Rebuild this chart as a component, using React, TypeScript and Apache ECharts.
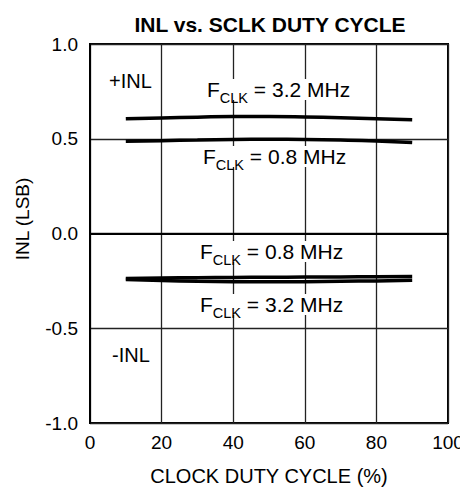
import React, { useEffect, useRef } from "react";
import * as echarts from "echarts";

const dutyCycle = [10, 20, 30, 40, 50, 60, 70, 80, 90];
const posInl32 = [0.605, 0.61, 0.614, 0.617, 0.617, 0.615, 0.611, 0.606, 0.6];
const posInl08 = [0.487, 0.49, 0.493, 0.496, 0.497, 0.496, 0.493, 0.488, 0.48];
const negInl08 = [-0.238, -0.235, -0.233, -0.232, -0.231, -0.23, -0.229, -0.228, -0.227];
const negInl32 = [-0.243, -0.248, -0.252, -0.254, -0.255, -0.254, -0.252, -0.25, -0.247];

const xTicks = { min: 0, max: 100, interval: 20 };
const yTicks = { min: -1, max: 1, interval: 0.5 };

const FONT = "'Liberation Sans', Arial, Helvetica, sans-serif";

function fclk(freq: string) {
  return `{m|F}{s|CLK}{m| = ${freq} MHz}`;
}

const richStyle = {
  m: { fontSize: 21, lineHeight: 21, verticalAlign: "top", fontFamily: FONT, fill: "#000", color: "#000" },
  s: { fontSize: 14.5, lineHeight: 14.5, verticalAlign: "top", padding: [11, 0, 0, 0], fontFamily: FONT, fill: "#000", color: "#000" },
};

function fclkLabel(freq: string, x: number, y: number) {
  return {
    type: "text",
    x,
    y,
    z: 10,
    style: {
      text: fclk(freq),
      rich: richStyle,
      fill: "#000",
      backgroundColor: "#fff",
      font: `21px ${FONT}`,
      verticalAlign: "top",
      align: "left",
    },
  };
}

function plainLabel(text: string, x: number, y: number, size: number) {
  return {
    type: "text",
    x,
    y,
    z: 10,
    style: {
      text,
      fill: "#000",
      font: `${size}px ${FONT}`,
      align: "left",
      verticalAlign: "middle",
    },
  };
}

export default function App() {
  const ref = useRef<HTMLDivElement>(null);
  useEffect(() => {
    if (!ref.current) return;
    const chart = echarts.init(ref.current, undefined, { renderer: "svg" });
    const mk = (data: number[]) => ({
      type: "line",
      data: dutyCycle.map((x, i) => [x, data[i]]),
      smooth: true,
      showSymbol: false,
      lineStyle: { color: "#000", width: 3.5 },
      z: 3,
    });
    chart.setOption({
      animation: false,
      backgroundColor: "#fff",
      textStyle: { fontFamily: FONT, color: "#000" },
      title: {
        text: "INL vs. SCLK DUTY CYCLE",
        left: 265,
        top: 9,
        textAlign: "center",
        textStyle: { fontSize: 21, fontWeight: "bold", fontFamily: FONT, color: "#000" },
      },
      grid: {
        left: 90,
        right: 12,
        top: 44,
        bottom: 64,
        outerBoundsMode: "none",
        containLabel: false,
        show: true,
        borderColor: "#000",
        borderWidth: 2,
        backgroundColor: "transparent",
      },
      xAxis: {
        type: "value",
        min: xTicks.min,
        max: xTicks.max,
        interval: xTicks.interval,
        name: "CLOCK DUTY CYCLE (%)",
        nameLocation: "middle",
        nameGap: 43,
        nameTextStyle: { fontSize: 20, fontFamily: FONT, color: "#000" },
        axisLine: { show: true, lineStyle: { color: "#000", width: 2 } },
        axisTick: { show: false },
        axisLabel: { fontSize: 19, fontFamily: FONT, color: "#000", margin: 10, showMaxLabel: true },
        splitLine: { show: true, lineStyle: { color: "#222", width: 1.3 } },
      },
      yAxis: {
        type: "value",
        min: yTicks.min,
        max: yTicks.max,
        interval: yTicks.interval,
        axisLine: { show: true, lineStyle: { color: "#000", width: 2 } },
        axisTick: { show: false },
        axisLabel: {
          fontSize: 19,
          fontFamily: FONT,
          color: "#000",
          margin: 12,
          formatter: (v: number) => v.toFixed(1),
        },
        splitLine: { show: true, lineStyle: { color: "#222", width: 1.3 } },
      },
      graphic: [
        {
          type: "text",
          x: 22,
          y: 219,
          rotation: Math.PI / 2,
          style: {
            text: "INL (LSB)",
            fill: "#000",
            font: `19px ${FONT}`,
            align: "center",
            verticalAlign: "middle",
          },
        },
        plainLabel("+INL", 109, 81, 20),
        plainLabel("-INL", 112, 355, 20),
        fclkLabel("3.2", 207, 79),
        fclkLabel("0.8", 203, 146),
        fclkLabel("0.8", 200, 241),
        fclkLabel("3.2", 200, 294),
      ],
      series: [mk(posInl32), mk(posInl08), mk(negInl08), mk(negInl32)],
    });
    return () => chart.dispose();
  }, []);
  return (
    <div
      ref={ref}
      style={{ position: "absolute", left: 0, top: 0, width: 460, height: 487 }}
    />
  );
}
